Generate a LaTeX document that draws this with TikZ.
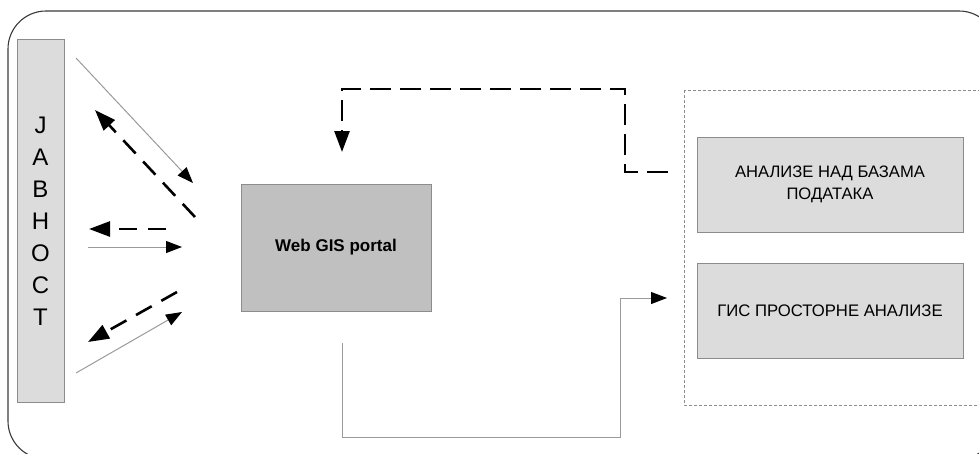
\documentclass[tikz,border=0pt]{standalone}
\usepackage{fontspec}
\setmainfont{Liberation Sans}
\usetikzlibrary{arrows.meta}
\definecolor{boxfill}{HTML}{DCDCDC}
\definecolor{portalfill}{HTML}{C0C0C0}
\definecolor{boxedge}{HTML}{8C8C8C}
\definecolor{flowgrey}{HTML}{9A9A9A}
\definecolor{framegrey}{HTML}{3A3A3A}
\begin{document}
\begin{tikzpicture}[x=1pt,y=-1pt,
  panel/.style={draw=boxedge, line width=1pt, fill=boxfill, inner sep=0pt, align=center},
  portal/.style={draw=boxedge, line width=1pt, fill=portalfill, inner sep=0pt, align=center},
  thintip/.style={-{Triangle[length=16pt,width=12pt,color=black]}},
  boldtip/.style={-{Triangle[length=21pt,width=15pt,color=black]}},
  request/.style={thintip, draw=flowgrey, line width=1pt},
  reply/.style={boldtip, draw=black, line width=2.6pt, dash pattern=on 18pt off 11pt},
  feedback/.style={boldtip, draw=black, line width=2.6pt, dash pattern=on 21pt off 9pt},
  group/.style={draw=boxedge, line width=0.9pt, dash pattern=on 3pt off 2pt},
  frame/.style={draw=framegrey, line width=1.1pt}
]
\useasboundingbox (0,0) rectangle (979,453);
\clip (0,0) rectangle (979,453);

% outer rounded frame, running past the right and bottom edges
\draw[frame, rounded corners=38pt] (8,11) rectangle (997,459);

% public column
\node[panel, minimum width=47pt, minimum height=363pt] (pub) at (40.5,220.5) {};
\node[font=\fontsize{24}{32}\selectfont, align=center, inner sep=0pt] (pubtext) at (40.5,221)
  {J\\A\\B\\H\\O\\C\\T};

% portal
\node[portal, minimum width=190pt, minimum height=127pt,
      font=\fontsize{17}{19}\selectfont\bfseries] (web) at (336,247.5) {Web GIS portal};

% analysis group
\draw[group] (684,90) rectangle (1000,405);
\node[panel, minimum width=266pt, minimum height=95pt,
      font=\fontsize{16.6}{22.5}\selectfont] (db) at (830,184.5)
  {АНАЛИЗЕ НАД БАЗАМА\\ПОДАТАКА};
\node[panel, minimum width=266pt, minimum height=95pt,
      font=\fontsize{16.7}{22.5}\selectfont] (gis) at (830,310.5)
  {ГИС ПРОСТОРНЕ АНАЛИЗЕ};

% end points of the exchange arrows between the public and the portal
\coordinate (a1s) at (76,58);   \coordinate (a1e) at (193,183);
\coordinate (b1s) at (195,217); \coordinate (b1e) at (95,110);
\coordinate (b2s) at (166,229); \coordinate (b2e) at (89,229);
\coordinate (a2s) at (88,247);  \coordinate (a2e) at (182,247);
\coordinate (b3s) at (177,292); \coordinate (b3e) at (88,342);
\coordinate (a3s) at (76,373);  \coordinate (a3e) at (182,312);

\draw[request] (a1s) -- (a1e);
\draw[reply]   (b1s) -- (b1e);
\draw[reply]   (b2s) -- (b2e);
\draw[request] (a2s) -- (a2e);
\draw[reply]   (b3s) -- (b3e);
\draw[request] (a3s) -- (a3e);

% results returned from the analyses to the portal
\coordinate (fbs) at (668,172);
\coordinate (fbe) at (342,152);
\draw[feedback] (fbs) -- (625,172) -- (625,89) -- (342,89) -- (fbe);

% portal request sent on to the analyses
\coordinate (rqs) at (342,343);
\coordinate (rqe) at (667,298);
\draw[request] (rqs) -- (342,437) -- (620,437) -- (620,298) -- (rqe);
\end{tikzpicture}
\end{document}
